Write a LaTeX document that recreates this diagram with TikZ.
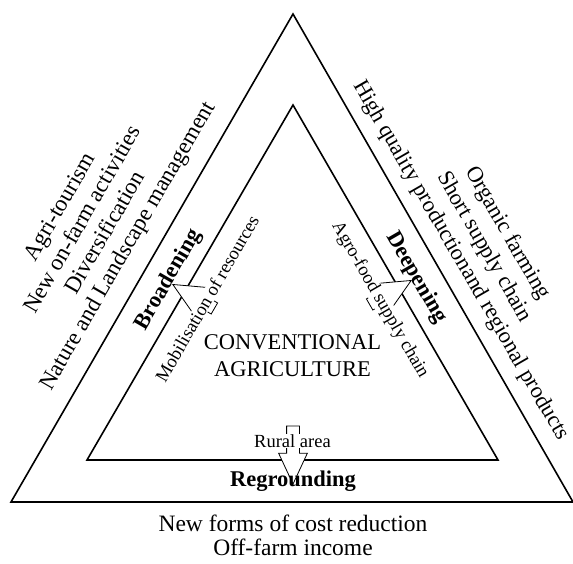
\documentclass[tikz,border=0pt]{standalone}
\usepackage{fontspec}
\setmainfont{Liberation Serif}
\usetikzlibrary{shapes.arrows}

\begin{document}
\begin{tikzpicture}[x=1pt, y=1pt,
  side/.style={line width=1.6pt},
  bigtext/.style={font=\fontsize{23}{26}\selectfont, align=center, inner sep=0pt},
  boldtext/.style={font=\fontsize{22.5}{26}\selectfont\bfseries, inner sep=0pt},
  smalltext/.style={font=\fontsize{18.5}{22}\selectfont, fill=white, inner sep=0.5pt},
  hollow/.style={single arrow, draw, fill=white, line width=0.8pt, inner xsep=0pt, inner ysep=6pt,
    single arrow head extend=8pt, single arrow tip angle=50, minimum height=48pt, anchor=tip}]
				\useasboundingbox (0,0) rectangle (573,563);
				
				% 1. 顶点
				\coordinate (Ao) at (293,549); \coordinate (Bo) at (11,61); \coordinate (Co) at (573,61);
				\coordinate (Ai) at (293,458); \coordinate (Bi) at (87,103); \coordinate (Ci) at (498,103);
				
				% 2. 两个三角形
				\draw[side] (Ao) -- (Bo) -- (Co) -- cycle;
				\draw[side] (Ai) -- (Bi) -- (Ci) -- cycle;
				
				% 3. 空心箭头
				\node[hollow, rotate=150] (broadarrow) at (172,279) {};
				\node[hollow, rotate=30] (deeparrow) at (412,283) {};
				\node[hollow, rotate=-90, minimum height=58pt] (regroundarrow) at (293,78) {};
				
				% 4. 三个方向
				\node[boldtext, rotate=60] (broadening) at (168.5,283) {Broadening};
				\node[boldtext, rotate=-60] (deepening) at (416.5,285.5) {Deepening};
				\node[boldtext, anchor=base] (regrounding) at (293,77) {Regrounding};
				
				\node[smalltext, rotate=60] (mobilisation) at (207,264.5) {Mobilisation of resources};
				\node[smalltext, rotate=-60] (agrofood) at (380,263) {Agro-food supply chain};
				\node[smalltext, anchor=base] (rural) at (292.5,116) {Rural area};
				
				% 5. 文字
				\node[bigtext, font=\fontsize{22.5}{27}\selectfont] (conv) at (292.5,207) {CONVENTIONAL\\AGRICULTURE};
				\node[bigtext, rotate=60] (broadlist) at (95,336) {Agri-tourism\\New on-farm activities\\Diversification\\Nature and Landscape management};
				\node[bigtext, rotate=-60, font=\fontsize{22.5}{27}\selectfont] (deeplist) at (484,316) {Organic farming\\Short supply chain\\High quality productionand regional products};
				\node[bigtext, font=\fontsize{23.5}{24}\selectfont] (regroundlist) at (293,28) {New forms of cost reduction\\Off-farm income};
			\end{tikzpicture}
\end{document}
